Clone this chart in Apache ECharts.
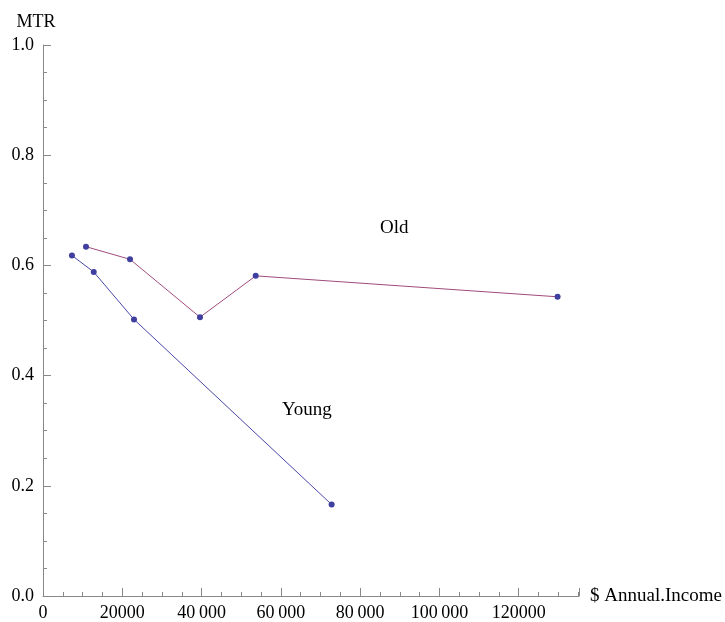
<!DOCTYPE html>
<html><head><meta charset="utf-8">
<script src="https://cdn.jsdelivr.net/npm/echarts@6/dist/echarts.min.js"></script>
<style>html,body{margin:0;padding:0;background:#fff}#c{width:725px;height:622px}</style>
</head><body><div id="c"></div>
<script>
const youngIncome = [7300, 12800, 22950, 72800];
const youngMTR = [0.618, 0.588, 0.502, 0.166];
const oldIncome = [10850, 21950, 39600, 53650, 129800];
const oldMTR = [0.634, 0.611, 0.506, 0.581, 0.543];
const xTickLabels = {0:'0',20000:'20000',40000:'40\u2009000',60000:'60\u2009000',80000:'80\u2009000',100000:'100\u2009000',120000:'120000'};
const seriesNames = ['Young','Old'];

const font = 'Liberation Serif';
const chart = echarts.init(document.getElementById('c'));
const pts = (xs, ys) => xs.map((x,i)=>[x, ys[i]]);
chart.setOption({
  animation:false,
  grid:{left:43,right:146,top:45,bottom:25,containLabel:false},
  xAxis:{type:'value',min:0,max:135200,interval:20000,
    name:'$ Annual.Income',nameLocation:'end',nameGap:11,
    nameTextStyle:{color:'#000',fontFamily:font,fontSize:19,verticalAlign:'middle'},
    axisLine:{show:true,onZero:false,lineStyle:{color:'#888',width:1}},
    axisTick:{show:true,inside:true,length:8,lineStyle:{color:'#888'}},
    minorTick:{show:true,splitNumber:4,length:4,lineStyle:{color:'#888'}},
    splitLine:{show:false},
    axisLabel:{color:'#000',fontFamily:font,fontSize:18,margin:8,showMaxLabel:false,
      formatter:v=>xTickLabels[v]!==undefined?xTickLabels[v]:''}
  },
  yAxis:{type:'value',min:0,max:1,interval:0.2,
    axisLine:{show:true,onZero:false,lineStyle:{color:'#888',width:1}},
    axisTick:{show:true,inside:true,length:8,lineStyle:{color:'#888'}},
    minorTick:{show:true,splitNumber:4,length:4,lineStyle:{color:'#888'}},
    splitLine:{show:false},
    axisLabel:{color:'#000',fontFamily:font,fontSize:18,margin:9,formatter:v=>v.toFixed(1)}
  },
  series:[
    {name:seriesNames[0],type:'line',data:pts(youngIncome,youngMTR),
     lineStyle:{color:'#4848a8',width:1},symbol:'circle',symbolSize:6,
     itemStyle:{color:'#3f3f9f'},z:3},
    {name:seriesNames[1],type:'line',data:pts(oldIncome,oldMTR),
     lineStyle:{color:'#a04a7c',width:1},symbol:'circle',symbolSize:6,
     itemStyle:{color:'#3f3f9f'},z:3}
  ],
  graphic:[
    {type:'text',x:36,y:22,style:{text:'MTR',font:'18px "Liberation Serif"',fill:'#000',align:'center',verticalAlign:'middle'}},
    {type:'text',x:380,y:228,style:{text:'Old',font:'19px "Liberation Serif"',fill:'#000',align:'left',verticalAlign:'middle'}},
    {type:'text',x:282,y:410,style:{text:'Young',font:'19px "Liberation Serif"',fill:'#000',align:'left',verticalAlign:'middle'}}
  ]
});
</script></body></html>
